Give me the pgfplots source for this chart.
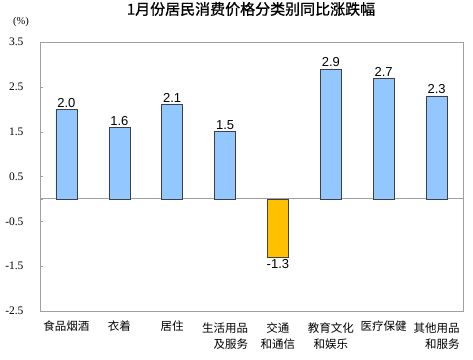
\documentclass[border=0pt]{standalone}
\usepackage{pgfplots}
\pgfplotsset{compat=1.18}
\usepackage{fontspec}
\setmainfont{Liberation Serif}
\newfontfamily\sansnum{Liberation Sans}
\newfontfamily\cjk{Noto Sans CJK SC}
\newfontfamily\cjktitle[FakeBold=1]{Noto Sans CJK SC}
\definecolor{barblue}{HTML}{93C7FF}
\definecolor{barorange}{HTML}{FFC000}
\definecolor{edge}{HTML}{404040}
\definecolor{axgray}{HTML}{A0A0A0}
\begin{document}
\begin{tikzpicture}
\path[use as bounding box] (0,0) rectangle (473bp,-360bp);
\begin{axis}[
  at={(40bp,-311bp)}, anchor=south west,
  scale only axis, width=423bp, height=269bp,
  xmin=-0.5, xmax=7.5, ymin=-2.5, ymax=3.5,
  ytick={-2.5,-1.5,-0.5,0.5,1.5,2.5,3.5},
  yticklabels={-2.5,-1.5,-0.5,0.5,1.5,2.5,3.5},
  ytick pos=left, tick align=inside,
  major tick length=3bp,
  ytick style={draw=axgray},
  yticklabel style={font=\rmfamily\fontsize{11.5bp}{13bp}\selectfont, anchor=east, xshift=-13bp},
  xtick={0,...,7},
  xtick style={draw=none},
  xticklabels={
    {食品烟酒},
    {衣着},
    {居住},
    {\begin{tabular}{@{}r@{}}生活用品\\及服务\end{tabular}},
    {\begin{tabular}{@{}c@{}}交通\\和通信\end{tabular}},
    {\begin{tabular}{@{}c@{}}教育文化\\和娱乐\end{tabular}},
    {医疗保健},
    {\begin{tabular}{@{}r@{}}其他用品\\和服务\end{tabular}}},
  xticklabel style={font=\cjk\fontsize{11.5bp}{16bp}\selectfont, anchor=north, yshift=-7bp, inner sep=0pt},
  axis line style={draw=axgray, line width=1bp},
  extra y ticks={0}, extra y tick labels={},
  extra y tick style={grid=major, major grid style={draw=axgray, line width=1bp}, tick style={draw=none}},
  ybar, bar width=21bp,
  /pgf/number format/assume math mode=true,
  nodes near coords,
  nodes near coords style={font=\sansnum\fontsize{13bp}{15bp}\selectfont, inner sep=1.5bp,
    /pgf/number format/.cd, fixed, fixed zerofill, precision=1, assume math mode=true},
  clip=false,
]
\addplot[bar shift=0pt, fill=barblue, draw=edge, line width=0.6bp]
  coordinates {(0,2.0) (1,1.6) (2,2.1) (3,1.5) (5,2.9) (6,2.7) (7,2.3)};
\addplot[bar shift=0pt, fill=barorange, draw=edge, line width=0.6bp]
  coordinates {(4,-1.3)};
\end{axis}
\node[font=\cjktitle\fontsize{15bp}{17bp}\selectfont] at (251bp,-9bp) {1月份居民消费价格分类别同比涨跌幅};
\node[font=\rmfamily\fontsize{10.5bp}{12bp}\selectfont] at (21bp,-22bp) {(\%)};
\end{tikzpicture}
\end{document}
